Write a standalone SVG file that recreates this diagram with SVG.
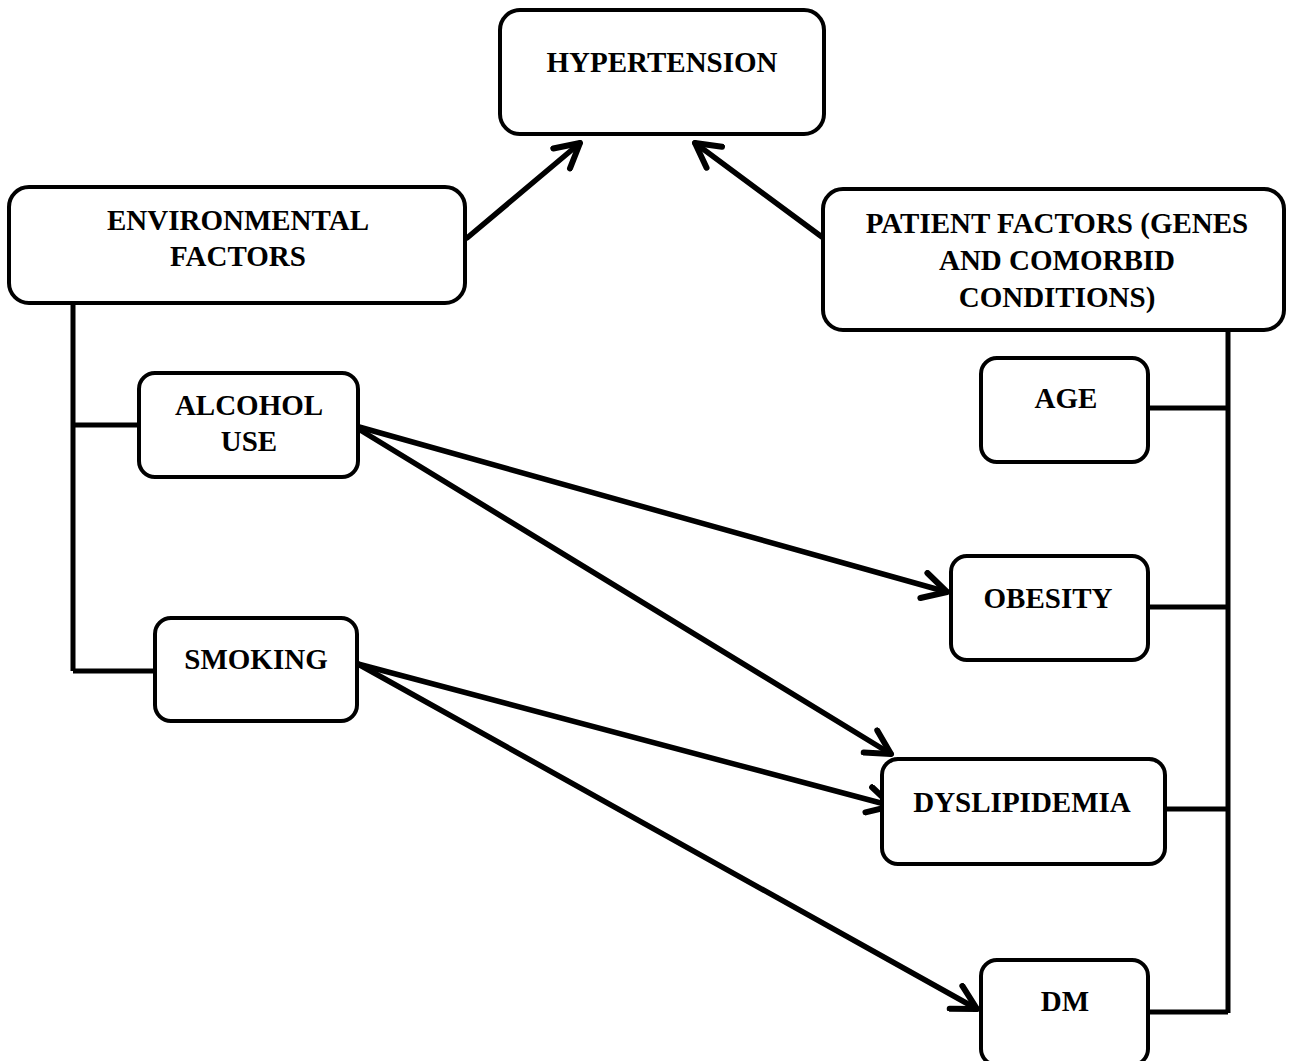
<svg xmlns="http://www.w3.org/2000/svg" width="1294" height="1061" viewBox="0 0 1294 1061">
<style>
.box{fill:#fff;stroke:#000;stroke-width:4}
.t{font-family:"Liberation Serif","Times New Roman",serif;font-weight:bold;font-size:29px;text-anchor:middle;fill:#000}
.ln{stroke:#000;stroke-width:5;fill:none}
.ar{stroke:#000;stroke-width:5.5;fill:none;stroke-linecap:round;marker-end:url(#ah)}
</style>
<defs>
<marker id="ah" viewBox="0 0 32 32" markerWidth="32" markerHeight="32" refX="28" refY="16" markerUnits="userSpaceOnUse" orient="auto">
<path d="M4,3 L28,16 L4,29" fill="none" stroke="#000" stroke-width="6" stroke-linecap="round" stroke-linejoin="round"/>
</marker>
</defs>
<g id="connectors">
<path class="ln" d="M73,303 V671 M73,425 H139 M73,671 H155"/>
<path class="ln" d="M1228,330 V1013 M1148,408 H1228 M1148,607 H1228 M1165,809 H1228 M1148,1012 H1228"/>
<line class="ar" x1="467" y1="238" x2="580" y2="143"/>
<line class="ar" x1="822" y1="237" x2="695" y2="143"/>
<line class="ar" x1="352" y1="425" x2="947" y2="592"/>
<line class="ar" x1="352" y1="425" x2="891" y2="754"/>
<line class="ar" x1="358" y1="664" x2="892" y2="806"/>
<line class="ar" x1="358" y1="664" x2="977" y2="1009"/>
</g>
<g id="hypertension"><rect class="box" x="500" y="10" width="324" height="124" rx="20"/><text class="t" x="662" y="72">HYPERTENSION</text></g>
<g id="environmental"><rect class="box" x="9" y="187" width="456" height="116" rx="20"/><text class="t" x="238" y="230">ENVIRONMENTAL</text><text class="t" x="238" y="266">FACTORS</text></g>
<g id="patient"><rect class="box" x="823" y="189" width="461" height="141" rx="20"/><text class="t" x="1057" y="233">PATIENT FACTORS (GENES</text><text class="t" x="1057" y="270">AND COMORBID</text><text class="t" x="1057" y="307">CONDITIONS)</text></g>
<g id="alcohol"><rect class="box" x="139" y="373" width="219" height="104" rx="16"/><text class="t" x="249" y="415">ALCOHOL</text><text class="t" x="249" y="451">USE</text></g>
<g id="smoking"><rect class="box" x="155" y="618" width="202" height="103" rx="16"/><text class="t" x="256" y="669">SMOKING</text></g>
<g id="age"><rect class="box" x="981" y="358" width="167" height="104" rx="16"/><text class="t" x="1066" y="408">AGE</text></g>
<g id="obesity"><rect class="box" x="951" y="556" width="197" height="104" rx="16"/><text class="t" x="1048" y="608">OBESITY</text></g>
<g id="dyslipidemia"><rect class="box" x="882" y="759" width="283" height="105" rx="16"/><text class="t" x="1022" y="812">DYSLIPIDEMIA</text></g>
<g id="dm"><rect class="box" x="981" y="960" width="167" height="105" rx="16"/><text class="t" x="1065" y="1011">DM</text></g>
</svg>
